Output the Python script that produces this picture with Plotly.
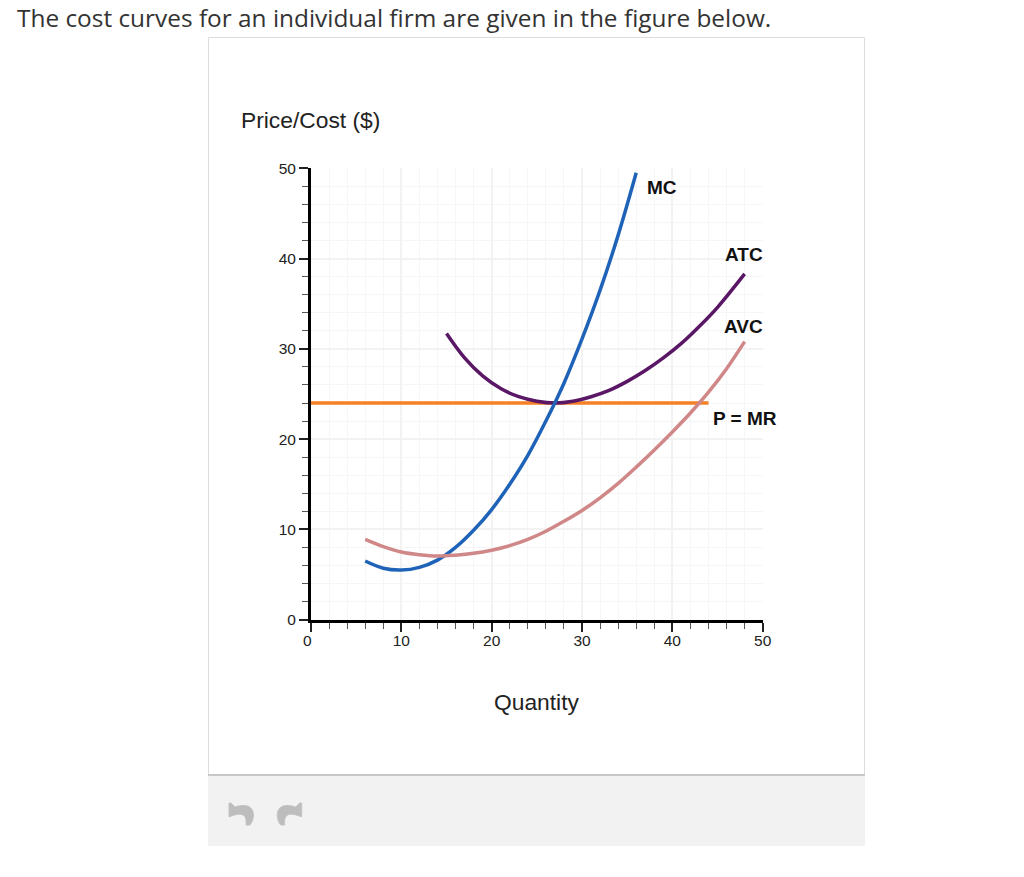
import plotly.graph_objects as go

W = 1024
H = 877

title_text = 'The cost curves for an individual firm are given in the figure below.'
y_title = 'Price/Cost ($)'
x_title = 'Quantity'

mc_x = [6, 8, 10, 12, 14, 16, 18, 20, 22, 24, 26, 28, 30, 32, 34, 36]
mc_y = [6.5, 5.7, 5.5, 5.8, 6.6, 8.0, 9.9, 12.2, 15.0, 18.2, 22.0, 26.2, 31.1, 36.5, 42.6, 49.5]

atc_x = [15, 17, 19, 21, 23, 25, 27, 29, 31, 33, 35, 37, 39, 41, 43, 45, 48]
atc_y = [31.7, 29.0, 27.0, 25.6, 24.7, 24.2, 24.0, 24.2, 24.7, 25.4, 26.4, 27.6, 29.0, 30.6, 32.5, 34.6, 38.3]

avc_x = [6, 8, 10, 12, 14, 16, 18, 20, 22, 24, 26, 28, 30, 32, 34, 36, 38, 40, 42, 44, 46, 48]
avc_y = [8.9, 8.1, 7.5, 7.2, 7.05, 7.15, 7.35, 7.7, 8.2, 8.9, 9.8, 10.9, 12.1, 13.5, 15.1, 16.9, 18.8, 20.8, 22.9, 25.2, 27.8, 30.8]

mr_x = [0, 44]
mr_y = [24, 24]

ticks = [0, 10, 20, 30, 40, 50]
x_tick_text = ['', '10', '20', '30', '40', '50']

# curve labels: text, x, y
labels = ['MC', 'ATC', 'AVC', 'P = MR']
label_x = [38.8, 47.9, 47.9, 48]
label_y = [47.9, 40.4, 32.5, 22.3]


def px(x):
    return x / W


def py(y):
    return 1 - y / H


def icon_path(points, mirror=None):
    out = []
    for cmd, coords in points:
        s = cmd
        for a, b in coords:
            if mirror:
                a = mirror - a
            s += ' %.5f,%.5f' % (px(a), py(b))
        out.append(s)
    return ' '.join(out) + ' Z'


undo = [('M', [(229, 803)]), ('L', [(229, 817), (243, 817), (238, 811)]),
        ('C', [(243, 811), (247, 815), (246, 825)]), ('L', [(250, 825)]),
        ('C', [(256, 818), (256, 800), (235, 807)]), ('L', [(231, 803)])]

fig = go.Figure()
fig.add_trace(go.Scatter(x=mr_x, y=mr_y, mode='lines', line=dict(color='#f58025', width=3.5), cliponaxis=False))
fig.add_trace(go.Scatter(x=atc_x, y=atc_y, mode='lines', line=dict(color='#5a1766', width=3.5, shape='spline')))
fig.add_trace(go.Scatter(x=mc_x, y=mc_y, mode='lines', line=dict(color='#1f63b8', width=3.5, shape='spline')))
fig.add_trace(go.Scatter(x=avc_x, y=avc_y, mode='lines', line=dict(color='#d08787', width=3.5, shape='spline')))

axis = dict(range=[0, 50], tickvals=ticks, ticks='outside', ticklen=9, tickwidth=1.5, tickcolor='#222',
            tickfont=dict(family='Liberation Sans', size=15.5, color='#222'),
            showline=True, linecolor='black', linewidth=3,
            showgrid=True, gridcolor='#f2f2f2', gridwidth=1.5, zeroline=False,
            minor=dict(dtick=2, ticks='outside', ticklen=6, tickwidth=1, tickcolor='#555',
                       showgrid=True, gridcolor='#f6f6f6', gridwidth=1))

fig.update_layout(
    width=W, height=H, margin=dict(l=0, r=0, t=0, b=0, pad=0, autoexpand=False), showlegend=False,
    paper_bgcolor='white', plot_bgcolor='white', hovermode=False,
    xaxis=dict(axis, domain=[px(311), px(762.7)], anchor='y', ticktext=x_tick_text, ticklabelstandoff=-4),
    yaxis=dict(axis, domain=[py(619.7), py(168.3)], anchor='x'),
)

# card and toolbar behind the plot
fig.add_shape(type='rect', xref='paper', yref='paper', x0=px(208.5), x1=px(864.5), y0=py(775), y1=py(37.5),
              line=dict(color='#dcdcdc', width=1), fillcolor='white', layer='below')
fig.add_shape(type='rect', xref='paper', yref='paper', x0=px(208), x1=px(865), y0=py(846), y1=py(776),
              line=dict(width=0), fillcolor='#f2f2f2', layer='below')
fig.add_shape(type='line', xref='paper', yref='paper', x0=px(208), x1=px(865), y0=py(775), y1=py(775),
              line=dict(color='#c8c8c8', width=2), layer='below')
fig.add_shape(type='path', xref='paper', yref='paper', path=icon_path(undo),
              fillcolor='#bdbdbd', line=dict(color='#c4c4c4', width=1))
fig.add_shape(type='path', xref='paper', yref='paper', path=icon_path(undo, mirror=530.7),
              fillcolor='#bdbdbd', line=dict(color='#c4c4c4', width=1))

fig.add_annotation(text=title_text, xref='paper', yref='paper', x=px(15), y=py(17.5), xanchor='left', yanchor='middle',
                   showarrow=False, font=dict(family='Open Sans', size=24.4, color='#333'))
fig.add_annotation(text=y_title, xref='paper', yref='paper', x=px(239), y=py(120), xanchor='left', yanchor='middle',
                   showarrow=False, font=dict(family='Liberation Sans', size=22.8, color='#222'))
fig.add_annotation(text=x_title, xref='paper', yref='paper', x=px(536.5), y=py(702), xanchor='center', yanchor='middle',
                   showarrow=False, font=dict(family='Liberation Sans', size=22.8, color='#222'))
# the zero on the x axis sits left of its tick
fig.add_annotation(text='0', xref='paper', yref='paper', x=px(307), y=py(640), xanchor='center', yanchor='middle',
                   showarrow=False, font=dict(family='Liberation Sans', size=15.5, color='#222'))

for t, lx, ly in zip(labels, label_x, label_y):
    fig.add_annotation(text='<b>%s</b>' % t, x=lx, y=ly, xref='x', yref='y', showarrow=False,
                       font=dict(family='Liberation Sans', size=19, color='#111'))

fig.write_html('out.html', config=dict(displayModeBar=False), post_script="document.body.style.margin='0';")
